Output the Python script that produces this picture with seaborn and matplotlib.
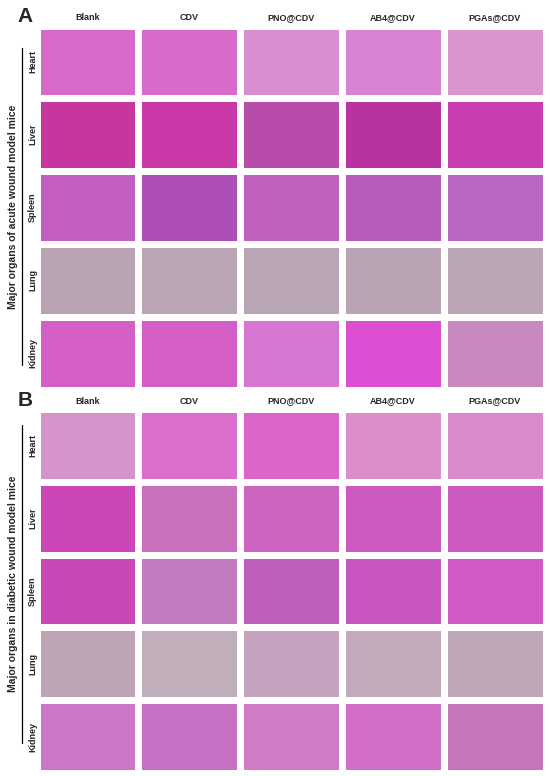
import matplotlib.pyplot as plt
import numpy as np
import seaborn as sns
from matplotlib.colors import ListedColormap

groups = ["Blank", "CDV", "PNO@CDV", "AB4@CDV", "PGAs@CDV"]
organs = ["Heart", "Liver", "Spleen", "Lung", "Kidney"]

# mean stain colour of each micrograph (rows = organs)
acute_heart = ["#d66ac8", "#d86aca", "#d88ed0", "#da82d2", "#d896cc"]
acute_liver = ["#c5369f", "#c838a6", "#b84cab", "#b8339f", "#c83eb2"]
acute_spleen = ["#c25ec0", "#b04eb8", "#c060bd", "#b85ab8", "#b866c0"]
acute_lung = ["#b9a4b4", "#baa6b4", "#b9a6b5", "#b8a4b5", "#bba6b6"]
acute_kidney = ["#d25ec6", "#d25ec6", "#d676d0", "#dc4ed2", "#c888c0"]

diab_heart = ["#d694cc", "#da6eca", "#da66ca", "#da8ecc", "#da8acc"]
diab_liver = ["#cc46b8", "#c870bc", "#cc64c0", "#cc5ac0", "#cc5ac0"]
diab_spleen = ["#c948b8", "#c27ac0", "#c05ebc", "#c856c0", "#d258c8"]
diab_lung = ["#bca4b6", "#c0aeba", "#c4a2bd", "#c3aabb", "#bca6b8"]
diab_kidney = ["#cc76c8", "#c870c4", "#d07ac8", "#d06ec8", "#c476bc"]

W, H = 550, 776


def fx(px):
    return px / W


def fy(py):
    return 1 - py / H


def draw_block(fig, top, letter, title, colours, line_span):
    # heatmap of the 5x5 panels, white grid lines give the gaps
    ax = fig.add_axes([fx(36.5), fy(top + 364), fx(509), 364 / H])
    flat = [c for row in colours for c in row]
    idx = np.arange(len(flat)).reshape(len(organs), len(groups))
    sns.heatmap(idx, ax=ax, cmap=ListedColormap(flat), vmin=-0.5,
                vmax=len(flat) - 0.5, cbar=False, linewidths=5,
                linecolor="white", xticklabels=False, yticklabels=False)
    ax.set_xlabel("")
    ax.set_ylabel("")

    for j, g in enumerate(groups):
        fig.text(fx(36.5 + 101.8 * (j + 0.5)), fy(top - 5.5), g,
                 ha="center", va="baseline", fontsize=6.5, fontweight="bold")
    for i, o in enumerate(organs):
        fig.text(fx(35), fy(top + 72.8 * (i + 0.5)), o, rotation=90,
                 rotation_mode="anchor", ha="center", va="baseline",
                 fontsize=6.5, fontweight="bold")

    fig.text(fx(25), fy(top - 8.5), letter, ha="center", va="center",
             fontsize=15, fontweight="bold")
    y0, y1 = line_span
    fig.add_artist(plt.Line2D([fx(22), fx(22)], [fy(y0), fy(y1)],
                              color="black", lw=0.9))
    fig.text(fx(13), fy((y0 + y1) / 2), title, rotation=90,
             ha="center", va="center", fontsize=7.5, fontweight="bold")


def main():
    sns.set_theme(style="white")
    plt.rcParams["font.family"] = ["Liberation Sans", "DejaVu Sans"]
    fig = plt.figure(figsize=(5.5, 7.76), dpi=100)

    acute = [acute_heart, acute_liver, acute_spleen, acute_lung, acute_kidney]
    diab = [diab_heart, diab_liver, diab_spleen, diab_lung, diab_kidney]

    draw_block(fig, 25.5, "A", "Major organs of acute wound model mice",
               acute, (48, 365))
    draw_block(fig, 409, "B", "Major organs in diabetic wound model mice",
               diab, (425, 743))

    fig.savefig("out.png", dpi=100)


if __name__ == "__main__":
    main()
